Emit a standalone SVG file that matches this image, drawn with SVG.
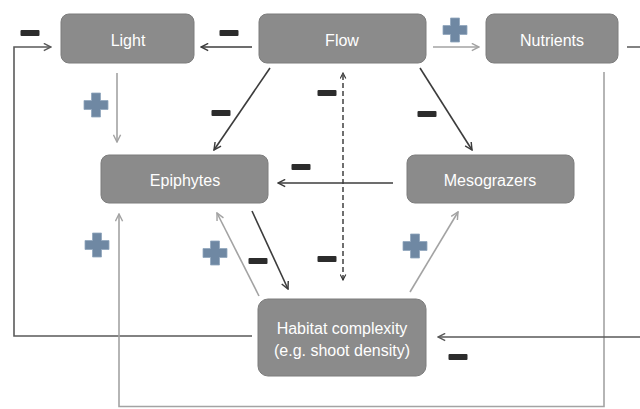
<svg xmlns="http://www.w3.org/2000/svg" width="640" height="409" viewBox="0 0 640 409">
<style>
.box{fill:#8b8b8b;stroke:#7d7d7d;stroke-width:1}
.lbl{font-family:"Liberation Sans",Arial,Helvetica,sans-serif;font-size:16px;fill:#ffffff;text-anchor:middle}
.dk{fill:none;stroke:#3c3c3c;stroke-width:1.6}
.lt{fill:none;stroke:#a3a3a3;stroke-width:1.6}
.md{fill:none;stroke:#5a5a5a;stroke-width:1.6}
.ds{fill:none;stroke:#333;stroke-width:1.4;stroke-dasharray:5,3}
.plus{fill:#6f88a3;stroke:#91a6bd;stroke-width:0.8}
.minus{fill:#2c2c2c}
</style>
<defs>
<marker id="ad" viewBox="0 0 10 10" refX="9" refY="5" markerWidth="9" markerHeight="9" markerUnits="userSpaceOnUse" orient="auto"><path d="M1,1 L9,5 L1,9" fill="none" stroke="#3c3c3c" stroke-width="1.6"/></marker>
<marker id="al" viewBox="0 0 10 10" refX="9" refY="5" markerWidth="9" markerHeight="9" markerUnits="userSpaceOnUse" orient="auto"><path d="M1,1 L9,5 L1,9" fill="none" stroke="#a3a3a3" stroke-width="1.6"/></marker>
<marker id="am" viewBox="0 0 10 10" refX="9" refY="5" markerWidth="9" markerHeight="9" markerUnits="userSpaceOnUse" orient="auto"><path d="M1,1 L9,5 L1,9" fill="none" stroke="#5a5a5a" stroke-width="1.6"/></marker>
<marker id="as" viewBox="0 0 10 10" refX="9" refY="5" markerWidth="7" markerHeight="7" markerUnits="userSpaceOnUse" orient="auto"><path d="M1,1 L9,5 L1,9" fill="none" stroke="#333" stroke-width="1.6"/></marker>
<marker id="as2" viewBox="0 0 10 10" refX="9" refY="5" markerWidth="7" markerHeight="7" markerUnits="userSpaceOnUse" orient="auto-start-reverse"><path d="M1,1 L9,5 L1,9" fill="none" stroke="#333" stroke-width="1.6"/></marker>
<g id="plusSym"><path class="plus" d="M-4.5,-12 H4.5 V-4.5 H12 V4.5 H4.5 V12 H-4.5 V4.5 H-12 V-4.5 H-4.5 Z"/></g>
<g id="minusSym"><rect class="minus" x="-9.5" y="-3" width="19" height="6" rx="1"/></g>
</defs>
<g id="connectors">
<line class="dk" x1="252" y1="47" x2="201" y2="47" marker-end="url(#ad)"/>
<line class="lt" x1="433" y1="47" x2="479" y2="47" marker-end="url(#al)"/>
<line class="lt" x1="117" y1="73" x2="117" y2="142" marker-end="url(#al)"/>
<line class="dk" x1="270" y1="68" x2="214" y2="150" marker-end="url(#ad)"/>
<line class="dk" x1="420" y1="68" x2="472" y2="150" marker-end="url(#ad)"/>
<line class="ds" x1="343" y1="280" x2="343" y2="73" marker-end="url(#as)" marker-start="url(#as2)"/>
<line class="dk" x1="393" y1="183" x2="278" y2="183" marker-end="url(#ad)"/>
<line class="dk" x1="252" y1="211" x2="288" y2="289" marker-end="url(#ad)"/>
<line class="lt" x1="259" y1="296" x2="217" y2="213" marker-end="url(#al)"/>
<line class="lt" x1="410" y1="292" x2="458" y2="212" marker-end="url(#al)"/>
<path class="md" d="M252,336 H14 V47 H51" marker-end="url(#am)"/>
<path class="lt" d="M604,72 V406.5 H119 V214" marker-end="url(#al)"/>
<path class="md" d="M627,47 H646 V337 H438" marker-end="url(#am)"/>
</g>
<g id="node-light"><rect class="box" x="61" y="14" width="133" height="49" rx="8"/><text class="lbl" x="128" y="46">Light</text></g>
<g id="node-flow"><rect class="box" x="259" y="14" width="167" height="49" rx="8"/><text class="lbl" x="342" y="46">Flow</text></g>
<g id="node-nutrients"><rect class="box" x="486" y="14" width="132" height="49" rx="8"/><text class="lbl" x="552" y="46">Nutrients</text></g>
<g id="node-epiphytes"><rect class="box" x="101" y="155" width="167" height="48" rx="8"/><text class="lbl" x="185" y="186">Epiphytes</text></g>
<g id="node-mesograzers"><rect class="box" x="407" y="155" width="167" height="48" rx="8"/><text class="lbl" x="490" y="186">Mesograzers</text></g>
<g id="node-habitat"><rect class="box" x="258" y="299" width="168" height="77" rx="10"/><text class="lbl" x="342" y="334">Habitat complexity</text><text class="lbl" x="342" y="356">(e.g. shoot density)</text></g>
<g id="signs">
<use href="#plusSym" x="96" y="105"/>
<use href="#plusSym" x="455" y="30"/>
<use href="#plusSym" x="97" y="245"/>
<use href="#plusSym" x="215" y="253"/>
<use href="#plusSym" x="415" y="246"/>
<use href="#minusSym" x="30" y="33"/>
<use href="#minusSym" x="229" y="33"/>
<use href="#minusSym" x="221" y="113"/>
<use href="#minusSym" x="327" y="93"/>
<use href="#minusSym" x="427" y="114"/>
<use href="#minusSym" x="301" y="167"/>
<use href="#minusSym" x="258" y="261"/>
<use href="#minusSym" x="327" y="259"/>
<use href="#minusSym" x="458" y="357"/>
</g>
</svg>
